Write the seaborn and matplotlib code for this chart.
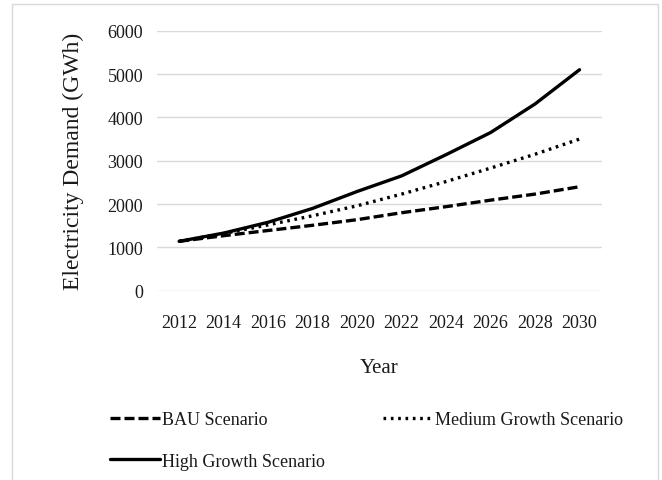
import matplotlib
matplotlib.use("Agg")
import matplotlib.pyplot as plt
import matplotlib.patches as mpatches
import pandas as pd
import seaborn as sns

years = [2012, 2014, 2016, 2018, 2020, 2022, 2024, 2026, 2028, 2030]
bau = [1140, 1270, 1390, 1510, 1640, 1800, 1940, 2090, 2230, 2400]
medium = [1140, 1320, 1520, 1730, 1960, 2230, 2520, 2830, 3150, 3500]
high = [1140, 1330, 1580, 1900, 2290, 2650, 3140, 3650, 4310, 5100]

series_names = ["BAU Scenario", "Medium Growth Scenario", "High Growth Scenario"]

df = pd.DataFrame({
    "Year": years * 3,
    "Demand": bau + medium + high,
    "Scenario": [series_names[0]] * len(years) + [series_names[1]] * len(years)
    + [series_names[2]] * len(years),
})

sns.set_theme(style="white")
plt.rcParams["font.family"] = ["Liberation Serif", "DejaVu Serif"]

fig = plt.figure(figsize=(6.62, 4.81), dpi=100)
ax = fig.add_axes([0.237, 0.3935, 0.672, 0.5405])

styles = {
    "BAU Scenario": (0, (3.0, 1.2)),
    "Medium Growth Scenario": (0, (0.8, 1.4)),
    "High Growth Scenario": "-",
}
lines = {}
for name in series_names:
    sub = df[df["Scenario"] == name]
    sns.lineplot(data=sub, x="Year", y="Demand", ax=ax, color="black",
                 linewidth=2.4, label=name)
    ln = ax.lines[-1]
    ln.set_linestyle(styles[name])
    lines[name] = ln

ax.get_legend().remove()
ax.set_xlim(2011, 2031)
ax.set_ylim(0, 6000)
ax.set_xticks(years)
ax.set_yticks(range(0, 6001, 1000))
ax.yaxis.grid(True, color="#d9d9d9", linewidth=1)
ax.xaxis.grid(False)
for s in ax.spines.values():
    s.set_visible(False)
ax.tick_params(axis="both", length=0, labelsize=13, colors="#1a1a1a")
ax.tick_params(axis="x", pad=17)
ax.tick_params(axis="y", pad=10)
ax.set_xlabel("Year", fontsize=15, labelpad=19, color="#1a1a1a")
ax.set_ylabel("Electricity Demand (GWh)", fontsize=17, labelpad=17, color="#1a1a1a")

fig.legend([lines["BAU Scenario"], lines["High Growth Scenario"], lines["Medium Growth Scenario"]],
           ["BAU Scenario", "High Growth Scenario", "Medium Growth Scenario"],
           ncol=2, frameon=False, loc="upper left", bbox_to_anchor=(110 / 662, 0.143),
           fontsize=13, handlelength=2.75, handletextpad=0.15, columnspacing=3.2,
           labelspacing=1.35, borderaxespad=0, borderpad=0, labelcolor="#1a1a1a")

fig.patches.append(mpatches.Rectangle((12 / 662, -0.01), 646 / 662, 1 - 5 / 481 + 0.01,
                                      transform=fig.transFigure, fill=False,
                                      edgecolor="#d9d9d9", linewidth=1))

fig.savefig("out.png", dpi=100)
